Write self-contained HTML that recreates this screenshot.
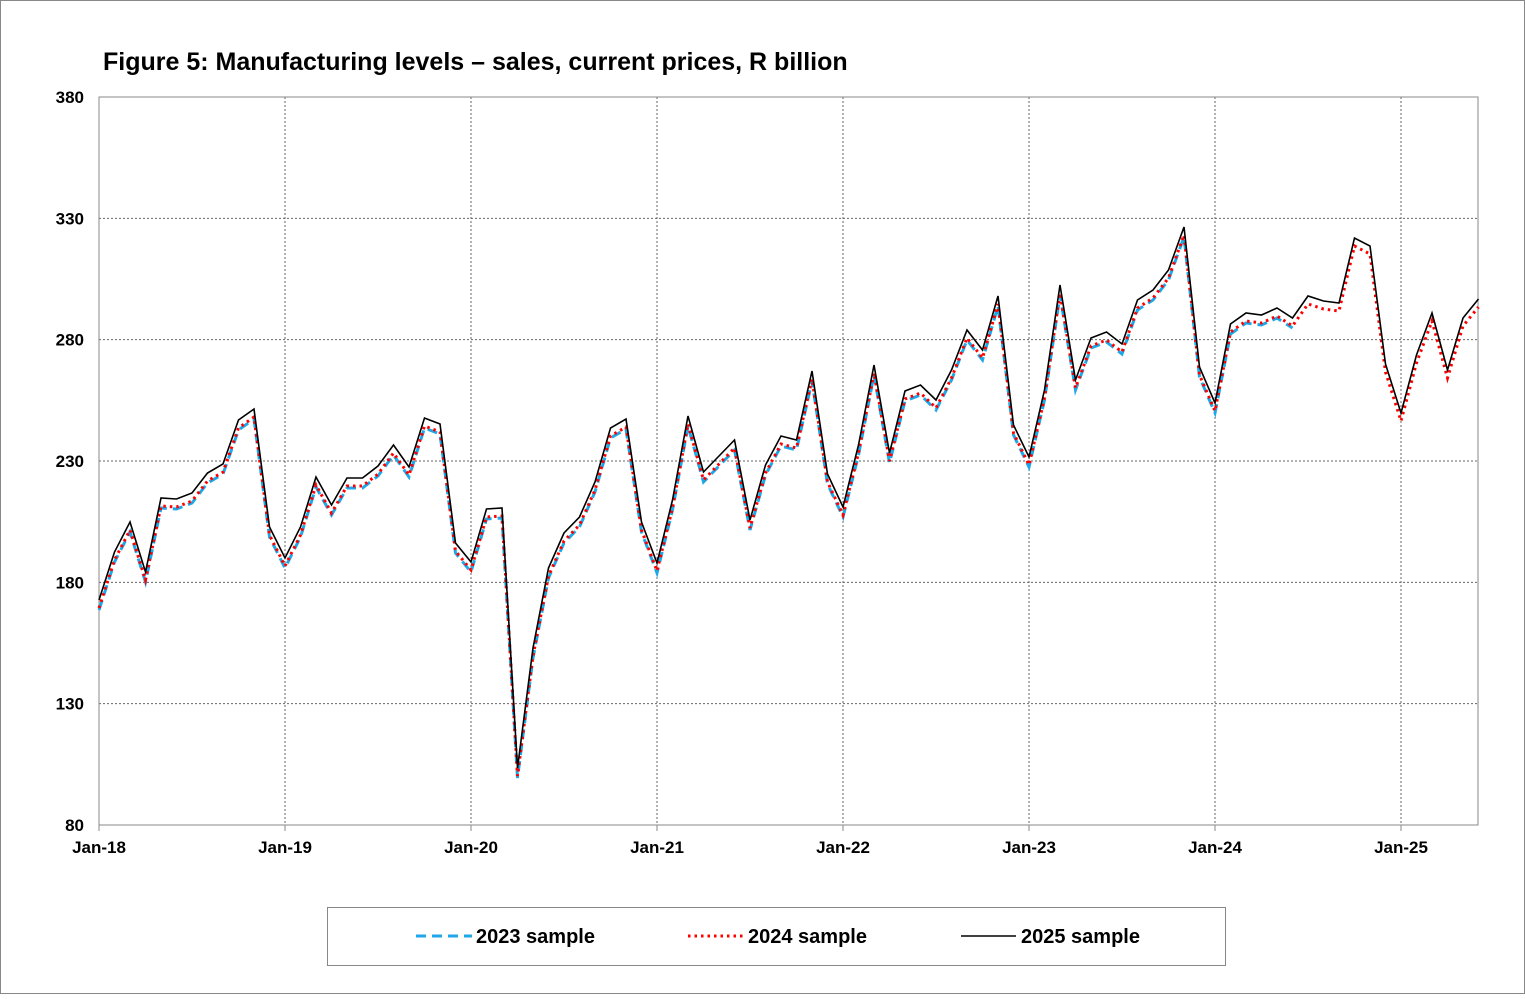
<!DOCTYPE html>
<html><head><meta charset="utf-8">
<style>
html,body{margin:0;padding:0;background:#fff;}
body{width:1525px;height:994px;overflow:hidden;}
svg text{font-family:"Liberation Sans",Arial,sans-serif;font-weight:bold;}
</style></head><body>
<svg id="c" width="1525" height="994" xmlns="http://www.w3.org/2000/svg">
<rect x="0.5" y="0.5" width="1524" height="993" fill="#fff" stroke="#888"/>
<text x="103" y="70" font-size="25">Figure 5: Manufacturing levels – sales, current prices, R billion</text>
<g id="grid"></g>
<rect x="99" y="97" width="1379" height="728" fill="none" stroke="#888" stroke-width="1"/>
<g id="series"></g>
<rect x="327.5" y="907.5" width="898" height="58" fill="#fff" stroke="#888"/>
<line x1="416" y1="936" x2="472" y2="936" stroke="#1fa8e8" stroke-width="3" stroke-dasharray="10,6"/>
<text x="476" y="943" font-size="20">2023 sample</text>
<line x1="688" y1="936" x2="744" y2="936" stroke="#ff0000" stroke-width="3" stroke-dasharray="2.5,4"/>
<text x="748" y="943" font-size="20">2024 sample</text>
<line x1="961" y1="936" x2="1016" y2="936" stroke="#000" stroke-width="1.6"/>
<text x="1021" y="943" font-size="20">2025 sample</text>
</svg>
<script>
var ns="http://www.w3.org/2000/svg";
function el(t,a,p){var e=document.createElementNS(ns,t);for(var k in a)e.setAttribute(k,a[k]);p.appendChild(e);return e;}
var g=document.getElementById('grid');
var labs=[80,130,180,230,280,330,380];
for(var i=0;i<7;i++){var y=825-i*121.33;
 if(i>0&&i<6)el('line',{x1:99,x2:1478,y1:y,y2:y,stroke:'#666','stroke-dasharray':'2,2','stroke-width':1},g);
 var t=el('text',{x:84,y:y+6,'font-size':17,'text-anchor':'end'},g);t.textContent=labs[i];}
var yrs=['Jan-18','Jan-19','Jan-20','Jan-21','Jan-22','Jan-23','Jan-24','Jan-25'];
for(var j=0;j<8;j++){var x=99+j*186;
 if(j>0)el('line',{x1:x,x2:x,y1:97,y2:825,stroke:'#666','stroke-dasharray':'2,2','stroke-width':1},g);
 el('line',{x1:x,x2:x,y1:825,y2:831,stroke:'#888'},g);
 var t=el('text',{x:x,y:853,'font-size':17,'text-anchor':'middle'},g);t.textContent=yrs[j];}
var b=[600,552,522,572,498,499,493,473,464,420,409,527,
558,527,477,505,478,478,466,445,467,418,424,543,
562,509,508,768,648,568,533,517,482,428,419,522,
563,500,416,472,456,440,520,465,436,440,371,474,
507,445,365,453,391,385,400,370,330,350,296,425,
457,390,285,380,338,332,344,300,290,270,227,367,
403,324,313,315,308,318,296,301,303,238,246,364,
413,355,313,370,318,299];
var s=document.getElementById('series');
function pts(off,n){var a=[];for(var i=0;i<n;i++)a.push((99+i*15.5).toFixed(1)+','+(b[i]+off));return a.join(' ');}
el('polyline',{points:pts(10,78),fill:'none',stroke:'#1fa8e8','stroke-width':3,'stroke-dasharray':'10,6'},s);
el('polyline',{points:pts(8,90),fill:'none',stroke:'#ff0000','stroke-width':3,'stroke-dasharray':'2.5,4'},s);
el('polyline',{points:pts(0,90),fill:'none',stroke:'#000','stroke-width':1.6},s);
</script>
</body></html>
